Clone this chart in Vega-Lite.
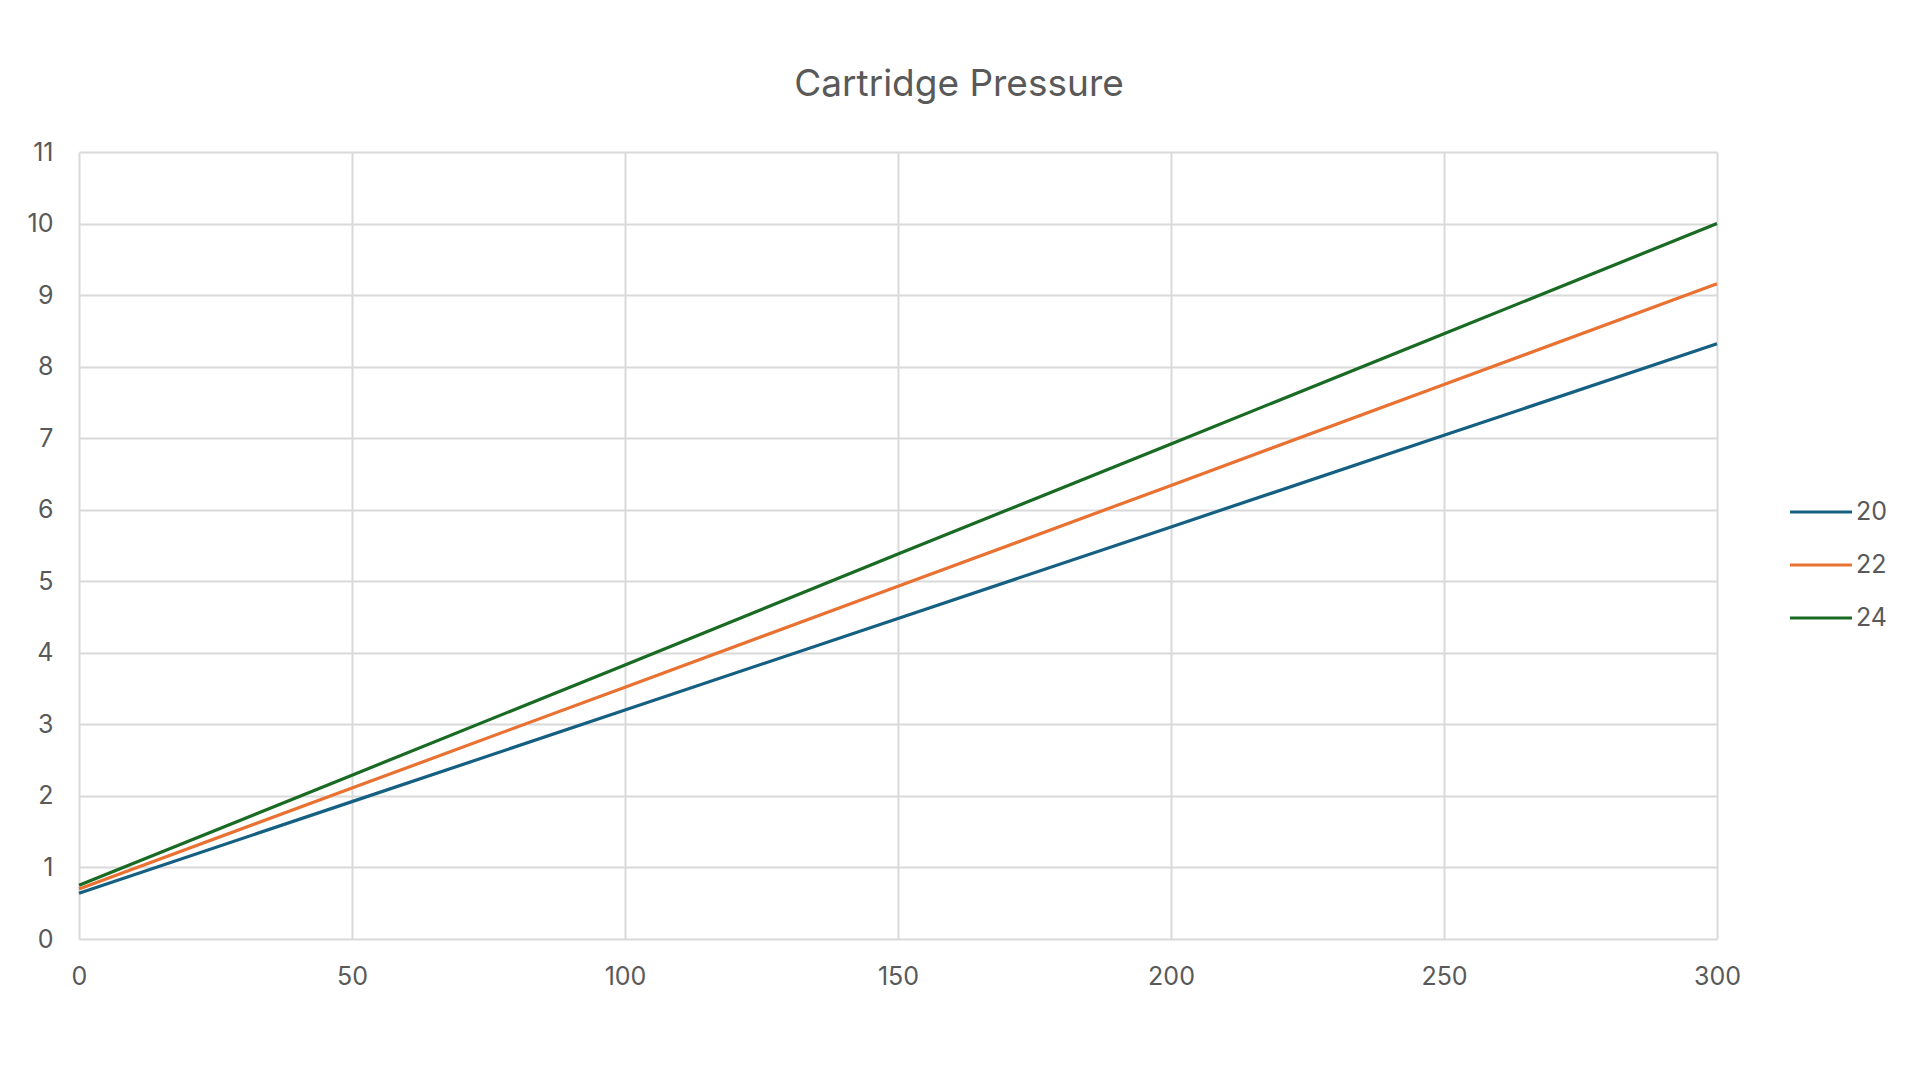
{
  "$schema": "https://vega.github.io/schema/vega-lite/v6.json",
  "width": 1638,
  "height": 787,
  "autosize": "none",
  "padding": {"left": 79, "top": 152, "right": 203, "bottom": 141},
  "background": "white",
  "title": {
    "text": "Cartridge Pressure",
    "font": "Inter",
    "fontSize": 37,
    "fontWeight": "normal",
    "color": "#595959",
    "anchor": "middle",
    "dx": 61,
    "offset": 36
  },
  "data": {
    "values": [
      {"x": 0, "series": "20", "y": 0.64},
      {"x": 50, "series": "20", "y": 1.92},
      {"x": 100, "series": "20", "y": 3.2},
      {"x": 150, "series": "20", "y": 4.48},
      {"x": 200, "series": "20", "y": 5.76},
      {"x": 250, "series": "20", "y": 7.04},
      {"x": 300, "series": "20", "y": 8.32},
      {"x": 0, "series": "22", "y": 0.7},
      {"x": 50, "series": "22", "y": 2.11},
      {"x": 100, "series": "22", "y": 3.52},
      {"x": 150, "series": "22", "y": 4.93},
      {"x": 200, "series": "22", "y": 6.34},
      {"x": 250, "series": "22", "y": 7.75},
      {"x": 300, "series": "22", "y": 9.16},
      {"x": 0, "series": "24", "y": 0.75},
      {"x": 50, "series": "24", "y": 2.29},
      {"x": 100, "series": "24", "y": 3.83},
      {"x": 150, "series": "24", "y": 5.38},
      {"x": 200, "series": "24", "y": 6.92},
      {"x": 250, "series": "24", "y": 8.46},
      {"x": 300, "series": "24", "y": 10.0}
    ]
  },
  "mark": {"type": "line", "strokeWidth": 3.2},
  "encoding": {
    "x": {
      "field": "x",
      "type": "quantitative",
      "scale": {"domain": [0, 300], "nice": false, "zero": true},
      "axis": {
        "values": [0, 50, 100, 150, 200, 250, 300],
        "title": null,
        "grid": true,
        "gridColor": "#d9d9d9",
        "gridWidth": 2,
        "domain": false,
        "ticks": false,
        "labelFlush": false,
        "labelPadding": 25,
        "labelFont": "Inter",
        "labelFontSize": 25,
        "labelColor": "#595959"
      }
    },
    "y": {
      "field": "y",
      "type": "quantitative",
      "scale": {"domain": [0, 11], "nice": false},
      "axis": {
        "values": [0, 1, 2, 3, 4, 5, 6, 7, 8, 9, 10, 11],
        "title": null,
        "grid": true,
        "gridColor": "#d9d9d9",
        "gridWidth": 2,
        "domain": false,
        "ticks": false,
        "labelPadding": 26,
        "labelFont": "Inter",
        "labelFontSize": 25,
        "labelColor": "#595959"
      }
    },
    "color": {
      "field": "series",
      "type": "nominal",
      "scale": {"domain": ["20", "22", "24"], "range": ["#156082", "#E97132", "#196B24"]},
      "legend": {
        "title": null,
        "orient": "none",
        "legendX": 1709,
        "legendY": 327,
        "padding": 0,
        "symbolType": "stroke",
        "symbolSize": 3844,
        "symbolStrokeWidth": 3.2,
        "labelOffset": 2,
        "labelFont": "Inter",
        "labelFontSize": 25,
        "labelColor": "#595959",
        "rowPadding": 7
      }
    }
  },
  "config": {"view": {"stroke": null}}
}
